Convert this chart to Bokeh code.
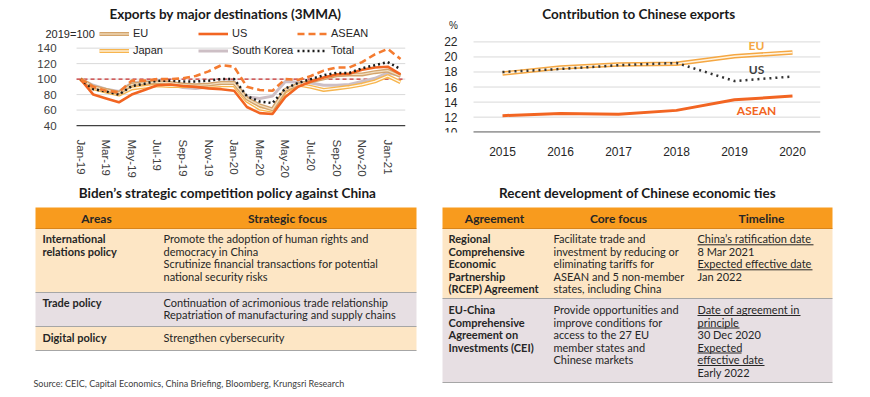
from bokeh.plotting import figure
from bokeh.models import ColumnDataSource, Range1d, FixedTicker, Label, Legend, LegendItem
from bokeh.layouts import column, row
from bokeh.embed import file_html
from bokeh.resources import INLINE
from bokeh.core.properties import value

# ---------------- data: exports by destination (3MMA, 2019=100) ----------------
months = ["Jan-19", "Feb-19", "Mar-19", "Apr-19", "May-19", "Jun-19", "Jul-19", "Aug-19", "Sep-19",
          "Oct-19", "Nov-19", "Dec-19", "Jan-20", "Feb-20", "Mar-20", "Apr-20", "May-20", "Jun-20",
          "Jul-20", "Aug-20", "Sep-20", "Oct-20", "Nov-20", "Dec-20", "Jan-21", "Feb-21"]
exp_eu = [100, 90, 86, 82, 93, 95, 96, 95, 93, 92, 93, 95, 95, 75, 66, 61, 86, 93, 97, 101, 105, 106, 106, 109, 111, 104]
exp_us = [100, 80, 75, 70, 80, 86, 92, 93, 91, 90, 88, 87, 85, 64, 56, 55, 77, 90, 97, 102, 106, 107, 112, 115, 116, 106]
exp_asean = [100, 90, 85, 83, 98, 98, 100, 100, 101, 104, 110, 118, 116, 90, 86, 85, 100, 99, 104, 111, 115, 115, 122, 132, 139, 126]
exp_japan = [100, 88, 84, 80, 88, 90, 92, 91, 91, 91, 91, 92, 92, 72, 62, 59, 84, 93, 90, 86, 88, 90, 93, 97, 104, 96]
exp_korea = [100, 92, 87, 84, 95, 97, 96, 93, 89, 88, 90, 96, 97, 77, 75, 78, 97, 96, 95, 92, 92, 93, 97, 101, 108, 105]
exp_total = [100, 87, 84, 80, 91, 94, 98, 98, 97, 97, 98, 100, 100, 78, 71, 69, 88, 95, 100, 105, 108, 108, 114, 118, 122, 113]
y1_ticks = [40, 60, 80, 100, 120, 140]
base_level = 100

# ---------------- data: contribution to Chinese exports (%) ----------------
years = [2015, 2016, 2017, 2018, 2019, 2020]
share_eu = [17.8, 18.6, 19.0, 19.1, 20.1, 20.6]
share_us = [18.0, 18.4, 18.9, 19.2, 16.8, 17.4]
share_asean = [12.2, 12.5, 12.4, 12.9, 14.3, 14.8]
y2_ticks = [10, 12, 14, 16, 18, 20, 22]

# ---------------- table texts ----------------
t1_title = "Biden\u2019s strategic competition policy against China"
t1_headers = ["Areas", "Strategic focus"]
t1_areas = [["International", "relations policy"], ["Trade policy"], ["Digital policy"]]
t1_focus = [["Promote the adoption of human rights and", "democracy in China",
             "Scrutinize financial transactions for potential", "national security risks"],
            ["Continuation of acrimonious trade relationship", "Repatriation of manufacturing and supply chains"],
            ["Strengthen cybersecurity"]]
t2_title = "Recent development of Chinese economic ties"
t2_headers = ["Agreement", "Core focus", "Timeline"]
t2_agreement = [["Regional", "Comprehensive", "Economic", "Partnership", "(RCEP) Agreement"],
                ["EU-China", "Comprehensive", "Agreement on", "Investments (CEI)"]]
t2_core = [["Facilitate trade and", "investment by reducing or", "eliminating tariffs for",
            "ASEAN and 5 non-member", "states, including China"],
           ["Provide opportunities and", "improve conditions for", "access to the 27 EU",
            "member states and", "Chinese markets"]]
t2_timeline = [["China\u2019s ratification date", "8 Mar 2021", "Expected effective date", "Jan 2022"],
               ["Date of agreement in", "principle", "30 Dec 2020", "Expected", "effective date", "Early 2022"]]
t2_underlined = [[0, 2], [0, 1, 3, 4]]
source_note = "Source: CEIC, Capital Economics, China Briefing, Bloomberg, Krungsri Research"

CHART_FONT = "Liberation Sans"
TAB_FONT = "Lato"
TXT = "#262626"
GRID = "#D9D9D9"
AXIS = "#404040"

# ================= chart 1 =================
X1_LO, X1_HI = -0.31, 25.39
p1 = figure(width=430, height=180, x_range=Range1d(-3.672, X1_HI), y_range=Range1d(31.03, 201.54),
            output_backend="svg", toolbar_location=None,
            min_border_left=33, min_border_right=25, min_border_top=0, min_border_bottom=47)
p1.outline_line_color = None
p1.grid.grid_line_color = None
p1.yaxis.ticker = FixedTicker(ticks=y1_ticks)
p1.yaxis.fixed_location = X1_LO
p1.xaxis.ticker = FixedTicker(ticks=list(range(0, len(months), 2)))
p1.xaxis.major_label_overrides = {i: months[i] for i in range(0, len(months), 2)}
p1.xaxis.major_label_orientation = "vertical"
for ax in (p1.xaxis, p1.yaxis):
    ax.axis_line_color = None
    ax.major_tick_line_color = None
    ax.minor_tick_line_color = None
    ax.major_label_text_font = CHART_FONT
    ax.major_label_text_color = AXIS
p1.yaxis.major_label_text_font_size = "11.5px"
p1.yaxis.major_label_standoff = 14
p1.xaxis.major_label_text_font_size = "11.5px"
p1.xaxis.major_label_standoff = 1

# grid lines and axis line limited to the plotting area
g1 = [t for t in y1_ticks if t > y1_ticks[0]]
p1.segment(x0=[X1_LO] * len(g1), x1=[X1_HI] * len(g1), y0=g1, y1=g1, line_color=GRID, line_width=1, level="underlay")
p1.segment(x0=[X1_LO], x1=[X1_HI], y0=[y1_ticks[0]], y1=[y1_ticks[0]], line_color=AXIS, line_width=1.2)
p1.segment(x0=[X1_LO], x1=[X1_HI], y0=[base_level], y1=[base_level], line_color="#C00000", line_width=1, line_dash="4 3")

src1 = ColumnDataSource(dict(x=list(range(len(months))), eu=exp_eu, us=exp_us, asean=exp_asean,
                             jp=exp_japan, kr=exp_korea, tot=exp_total))
r_kr = p1.line("x", "kr", source=src1, line_color="#CDBFC5", line_width=3)
r_jp_o = p1.line("x", "jp", source=src1, line_color="#F7B54E", line_width=4)
r_jp_i = p1.line("x", "jp", source=src1, line_color="#FFF8EC", line_width=1.3)
r_eu_o = p1.line("x", "eu", source=src1, line_color="#D3A46C", line_width=4)
r_eu_i = p1.line("x", "eu", source=src1, line_color="#F1DDBF", line_width=1.3)
r_us = p1.line("x", "us", source=src1, line_color="#F26522", line_width=2.6)
r_tot = p1.line("x", "tot", source=src1, line_color="#1A1A1A", line_width=2.5, line_dash="2 3")
r_as = p1.line("x", "asean", source=src1, line_color="#F47B30", line_width=2.6, line_dash="7 4")

legend = Legend(items=[LegendItem(label="EU", renderers=[r_eu_o, r_eu_i]),
                       LegendItem(label="US", renderers=[r_us]),
                       LegendItem(label="ASEAN", renderers=[r_as]),
                       LegendItem(label="Japan", renderers=[r_jp_o, r_jp_i]),
                       LegendItem(label="South Korea", renderers=[r_kr]),
                       LegendItem(label="Total", renderers=[r_tot])],
                location=(66, 74.5), orientation="horizontal", ncols=3,
                glyph_width=30, glyph_height=15, label_height=15, label_width=63,
                spacing=2, padding=0, margin=0, label_standoff=4,
                border_line_color=None, background_fill_alpha=0,
                label_text_font=CHART_FONT, label_text_font_size="11px", label_text_color=TXT)
p1.add_layout(legend, "center")
p1.add_layout(Label(x=11.33, y=183.6, text="Exports by major destinations (3MMA)",
                    text_align="center", text_baseline="middle", text_font=TAB_FONT,
                    text_font_size="13.5px", text_font_style="bold", text_color="#1A1A1A"))
p1.add_layout(Label(x=-2.734, y=157.95, text="2019=100",
                    text_align="left", text_baseline="middle", text_font=CHART_FONT,
                    text_font_size="11px", text_color=TXT))

# ================= chart 2 =================
X2_LO, X2_HI = 2014.5, 2020.483
p2 = figure(width=440, height=180, x_range=Range1d(2013.931, X2_HI), y_range=Range1d(9.96, 27.5),
            output_backend="svg", toolbar_location=None,
            min_border_left=10, min_border_right=50, min_border_top=0, min_border_bottom=47)
p2.outline_line_color = None
p2.grid.grid_line_color = None
p2.yaxis.ticker = FixedTicker(ticks=y2_ticks)
p2.yaxis.fixed_location = X2_LO
p2.xaxis.ticker = FixedTicker(ticks=years)
for ax in (p2.xaxis, p2.yaxis):
    ax.axis_line_color = None
    ax.major_tick_line_color = None
    ax.minor_tick_line_color = None
    ax.major_label_text_font = CHART_FONT
    ax.major_label_text_color = TXT
    ax.major_label_text_font_size = "12px"
p2.yaxis.major_label_standoff = 10
p2.xaxis.major_label_standoff = 8

g2 = [t for t in y2_ticks if t > y2_ticks[0]]
p2.segment(x0=[X2_LO] * len(g2), x1=[X2_HI] * len(g2), y0=g2, y1=g2, line_color=GRID, line_width=1, level="underlay")
p2.segment(x0=[X2_LO], x1=[X2_HI], y0=[y2_ticks[0]], y1=[y2_ticks[0]], line_color=AXIS, line_width=1.2)

src2 = ColumnDataSource(dict(x=years, eu=share_eu, us=share_us, asean=share_asean))
p2.line("x", "eu", source=src2, line_color="#F5A742", line_width=4.5)
p2.line("x", "eu", source=src2, line_color="#FFF4E2", line_width=1.6)
p2.line("x", "us", source=src2, line_color="#333333", line_width=2.5, line_dash="2 4")
p2.line("x", "asean", source=src2, line_color="#F26522", line_width=3)

for txt, yv, col in (("EU", 21.57, "#F5A742"), ("US", 18.27, "#404040"), ("ASEAN", 12.86, "#F26522")):
    p2.add_layout(Label(x=2019.38, y=yv, text=txt, text_align="center", text_baseline="middle",
                        text_font=TAB_FONT, text_font_size="12px", text_font_style="bold", text_color=col))
p2.add_layout(Label(x=2017.35, y=25.65, text="Contribution to Chinese exports",
                    text_align="center", text_baseline="middle", text_font=TAB_FONT,
                    text_font_size="13.5px", text_font_style="bold", text_color="#1A1A1A"))
p2.add_layout(Label(x=2014.155, y=24.2, text="%",
                    text_align="center", text_baseline="middle", text_font=CHART_FONT,
                    text_font_size="10px", text_color=TXT))

# ================= tables =================
p3 = figure(width=870, height=217, x_range=Range1d(0, 870), y_range=Range1d(217, 0),
            output_backend="svg", toolbar_location=None, x_axis_type=None, y_axis_type=None,
            min_border=0)
p3.outline_line_color = None
p3.grid.grid_line_color = None

HEAD = "#F89B1E"
PEACH = "#FDE6C5"
GREY = "#E7DFE3"
SEP = "#A6A6A6"
LH = 12.5


def cell_text(x, y0, lines, bold=False, size="11px", align="left"):
    p3.text(x=[x] * len(lines), y=[y0 + i * LH for i in range(len(lines))], text=lines,
            text_font=value(TAB_FONT), text_font_size=size, text_font_style="bold" if bold else "normal",
            text_color=TXT, text_align=align, text_baseline="middle")


# table 1
p3.quad(left=[35] * 4, right=[416] * 4, top=[27, 48, 112, 146], bottom=[48, 112, 146, 170],
        fill_color=[HEAD, PEACH, GREY, PEACH], line_color=None)
p3.segment(x0=[35] * 4, x1=[416] * 4, y0=[48, 112, 146, 170], y1=[48, 112, 146, 170],
           line_color=["#D9841A", SEP, SEP, SEP], line_width=1.2)
p3.text(x=[227], y=[12], text=[t1_title], text_font=value(TAB_FONT), text_font_size="13.5px",
        text_font_style="bold", text_color="#1A1A1A", text_align="center", text_baseline="middle")
cell_text(96, 37.5, [t1_headers[0]], bold=True, size="12px", align="center")
cell_text(287, 37.5, [t1_headers[1]], bold=True, size="12px", align="center")
for y0, areas, focus in zip([58, 121.7, 157], t1_areas, t1_focus):
    cell_text(42, y0, areas, bold=True)
    cell_text(163, y0, focus)
p3.text(x=[33], y=[203], text=[source_note], text_font=value(TAB_FONT), text_font_size="9px",
        text_color="#404040", text_align="left", text_baseline="middle")

# table 2
p3.quad(left=[442] * 3, right=[832] * 3, top=[27, 48, 118], bottom=[48, 118, 202],
        fill_color=[HEAD, PEACH, GREY], line_color=None)
p3.segment(x0=[442] * 3, x1=[832] * 3, y0=[48, 118, 202], y1=[48, 118, 202],
           line_color=["#D9841A", SEP, SEP], line_width=1.2)
p3.text(x=[637], y=[12], text=[t2_title], text_font=value(TAB_FONT), text_font_size="13.5px",
        text_font_style="bold", text_color="#1A1A1A", text_align="center", text_baseline="middle")
for xc, h in zip([494, 618, 761], t2_headers):
    cell_text(xc, 37.5, [h], bold=True, size="12px", align="center")
ul_widths = [[116, 115], [103, 42, 44, 67]]
for y0, ag, core, tl, uls, uw in zip([58.3, 129], t2_agreement, t2_core, t2_timeline, t2_underlined, ul_widths):
    cell_text(448, y0, ag, bold=True)
    cell_text(553, y0, core)
    cell_text(697, y0, tl)
    ys = [y0 + i * LH + 6 for i in uls]
    p3.segment(x0=[697] * len(ys), x1=[697 + w for w in uw], y0=ys, y1=ys, line_color=TXT, line_width=1)

layout = column(row(p1, p2), p3)
open("out.html", "w").write(file_html(layout, INLINE))
